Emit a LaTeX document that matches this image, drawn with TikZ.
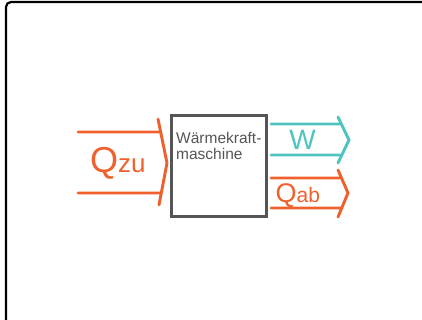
\documentclass[tikz,border=0pt]{standalone}
\usepackage{fontspec}
\setmainfont{Liberation Sans}
\definecolor{heat}{HTML}{F0602C}
\definecolor{work}{HTML}{4EC3C1}
\definecolor{boxgray}{HTML}{555555}
\begin{document}
\begin{tikzpicture}[x=1pt,y=-1pt,
  flowline/.style={line width=2.9pt,line cap=round,line join=round},
  engine/.style={draw=boxgray,line width=3pt,minimum width=95pt,minimum height=100pt,inner sep=0pt},
  lbl/.style={inner sep=0pt}]
\useasboundingbox (0,0) rectangle (422,320);
\clip (0,0) rectangle (422,320);
\draw[line width=2.2pt,rounded corners=5pt] (6,330) -- (6,2) -- (432,2);
\node[engine] (wkm) at (218.5,166) {};
\node[lbl,anchor=base west,align=left,text=boxgray,font=\fontsize{15.5}{16}\selectfont] (wtxt) at (176,160) {Wärmekraft-\\maschine};
% Q_zu arrow
\coordinate (zt0) at (78,132);
\coordinate (zt1) at (160,132);
\coordinate (zb0) at (78,193);
\coordinate (zb1) at (160,193);
\coordinate (zc0) at (158,119);
\coordinate (zc1) at (167,163);
\coordinate (zc2) at (159,205);
\draw[flowline,heat] (zt0) -- (zt1) (zb0) -- (zb1) (zc0) -- (zc1) -- (zc2);
\node[lbl,anchor=base west,text=heat] (qzu) at (90,173) {\fontsize{36}{36}\selectfont Q\fontsize{26}{26}\selectfont zu};
% W arrow
\coordinate (wt0) at (271,124);
\coordinate (wt1) at (340,124);
\coordinate (wb0) at (271,155);
\coordinate (wb1) at (340,155);
\coordinate (wc0) at (338,117);
\coordinate (wc1) at (349,140);
\coordinate (wc2) at (338,163);
\draw[flowline,work] (wt0) -- (wt1) (wb0) -- (wb1) (wc0) -- (wc1) -- (wc2);
\node[lbl,anchor=base,text=work,font=\fontsize{28}{28}\selectfont] (wl) at (302.5,149.5) {W};
% Q_ab arrow
\coordinate (at0) at (271,178);
\coordinate (at1) at (340,178);
\coordinate (ab0) at (271,208);
\coordinate (ab1) at (340,208);
\coordinate (ac0) at (338,170);
\coordinate (ac1) at (348,193);
\coordinate (ac2) at (338,217);
\draw[flowline,heat] (at0) -- (at1) (ab0) -- (ab1) (ac0) -- (ac1) -- (ac2);
\node[lbl,anchor=base west,text=heat] (qab) at (275.5,202.5) {\fontsize{27}{27}\selectfont Q\fontsize{21}{21}\selectfont ab};
\end{tikzpicture}
\end{document}
